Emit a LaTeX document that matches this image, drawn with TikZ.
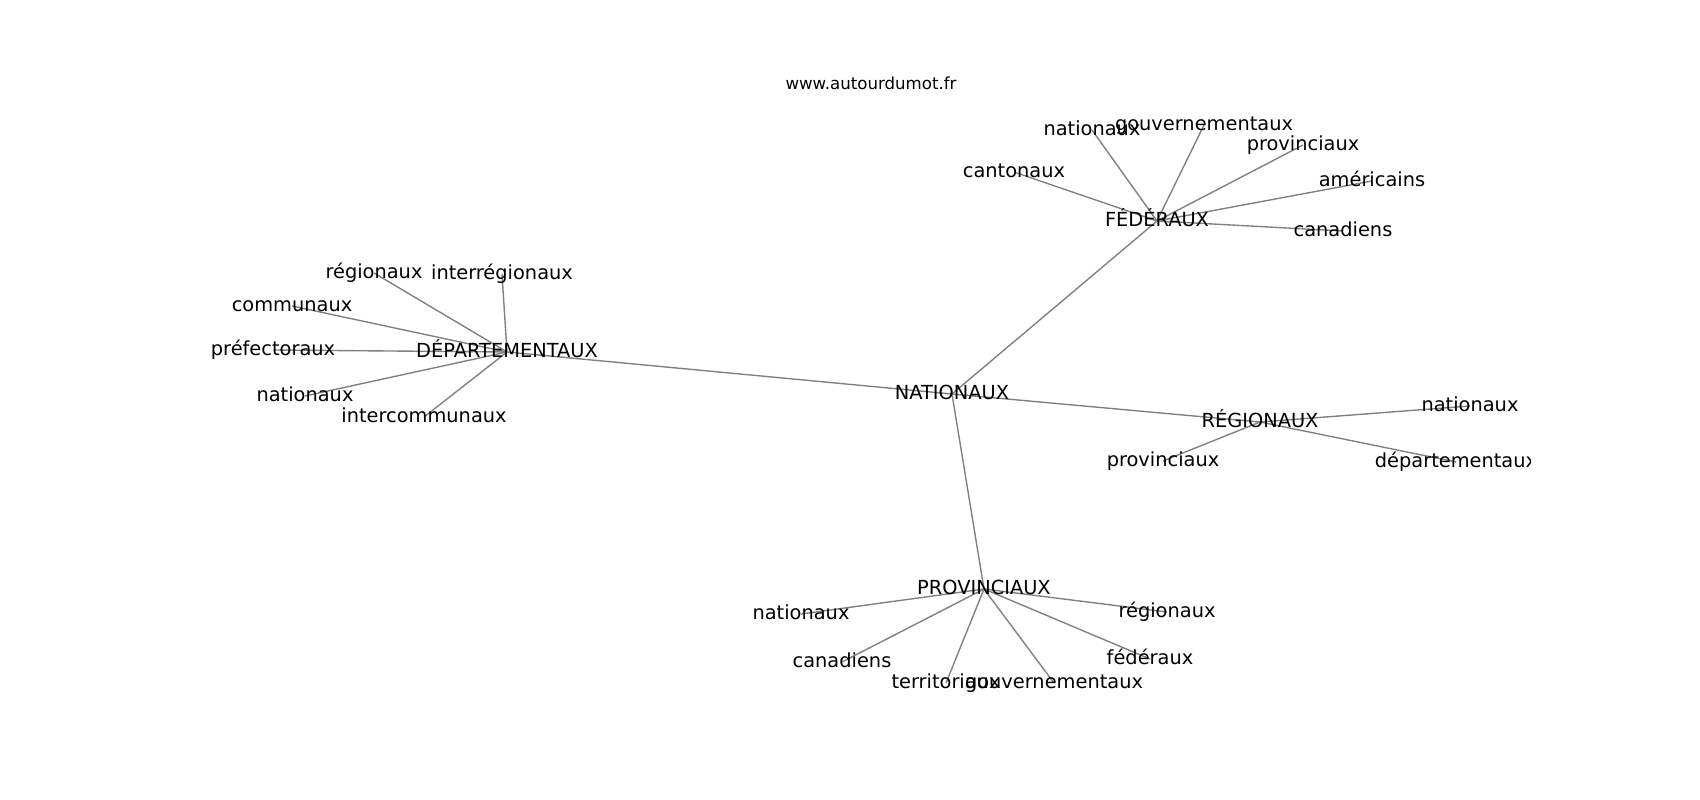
\documentclass[tikz,border=0pt]{standalone}
\usepackage{fontspec}
\setmainfont{DejaVu Sans}
\usetikzlibrary{backgrounds}

\tikzset{
 lbl/.style={inner sep=0pt, text height=0.86em, text depth=0.12em, font=\fontsize{14}{17}\selectfont},
 edge/.style={gray, line width=1pt}
}

\begin{document}
\begin{tikzpicture} [x=0.01in, y=-0.01in]
\useasboundingbox (0,0) rectangle (1700,800);
\node[font=\fontsize{12}{14}\selectfont] (titre) at (871,83.5) {www.autourdumot.fr};
\begin{scope}
\clip (212.5,96) rectangle (1530,712);
\node[lbl] (nat) at (952,394) {NATIONAUX};
\node[lbl] (fed) at (1157,221) {FÉDÉRAUX};
\node[lbl] (reg) at (1260,422) {RÉGIONAUX};
\node[lbl] (dep) at (507,352) {DÉPARTEMENTAUX};
\node[lbl] (prov) at (984,589) {PROVINCIAUX};
\foreach \n/\x/\y/\t in {fedNat/1092/130/nationaux, fedGouv/1204/125/gouvernementaux,
 fedProv/1303/145/provinciaux, fedCant/1014/172/cantonaux, fedAm/1372/181/américains,
 fedCan/1343/231/canadiens} {
 \node[lbl] (\n) at (\x,\y) {\t};
}
\foreach \n/\x/\y/\t in {regNat/1470/406/nationaux, regProv/1163/461/provinciaux,
 regDep/1456/462/départementaux} {
 \node[lbl] (\n) at (\x,\y) {\t};
}
\foreach \n/\x/\y/\t in {depReg/374/273/régionaux, depInter/502/274/interrégionaux,
 depComm/292/306/communaux, depPref/273/350/préfectoraux, depNat/305/396/nationaux,
 depInterc/424/417/intercommunaux} {
 \node[lbl] (\n) at (\x,\y) {\t};
}
\foreach \n/\x/\y/\t in {provNat/801/614/nationaux, provCan/842/662/canadiens,
 provTerr/946/683/territoriaux, provGouv/1054/683/gouvernementaux,
 provReg/1167/612/régionaux, provFed/1150/659/fédéraux} {
 \node[lbl] (\n) at (\x,\y) {\t};
}
\end{scope}
\begin{scope}[on background layer]
\foreach \n in {fed, reg, dep, prov} {
 \draw[edge] (nat.center) -- (\n.center);
}
\foreach \n in {fedNat, fedGouv, fedProv, fedCant, fedAm, fedCan} {
 \draw[edge] (fed.center) -- (\n.center);
}
\foreach \n in {regNat, regProv, regDep} {
 \draw[edge] (reg.center) -- (\n.center);
}
\foreach \n in {depReg, depInter, depComm, depPref, depNat, depInterc} {
 \draw[edge] (dep.center) -- (\n.center);
}
\foreach \n in {provNat, provCan, provTerr, provGouv, provReg, provFed} {
 \draw[edge] (prov.center) -- (\n.center);
}
\end{scope}
\end{tikzpicture}
\end{document}
